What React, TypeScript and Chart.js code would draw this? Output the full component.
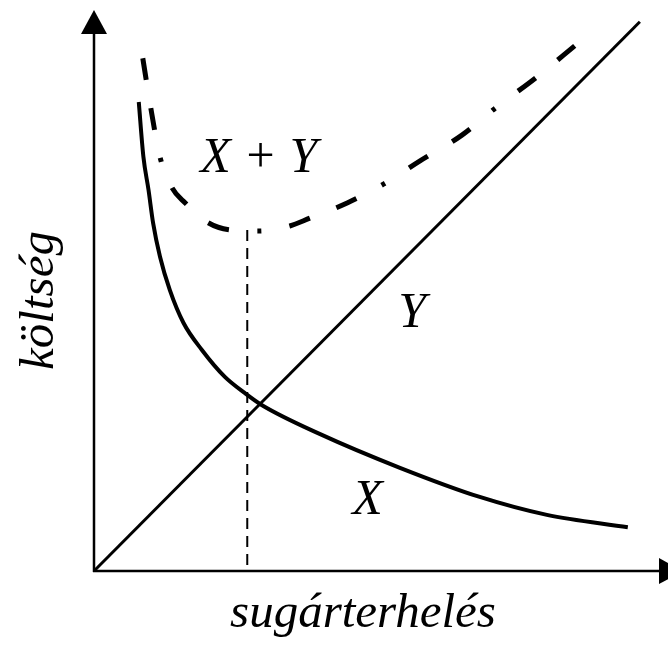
import React, { useEffect, useRef } from "react";
import { Chart, registerables } from "chart.js";

Chart.register(...registerables);

// X cost curve (decreasing)
const xCostX = [0.78, 0.86, 0.95, 1.03, 1.15, 1.32, 1.56, 1.88, 2.28, 2.63, 2.92, 3.94, 5.33, 6.72, 7.89, 9.3];
const xCostY = [8.36, 7.39, 6.79, 6.2, 5.6, 5.01, 4.42, 3.94, 3.46, 3.17, 2.96, 2.44, 1.84, 1.32, 1.0, 0.78];

// Y cost line (increasing)
const yCostX = [0, 9.51];
const yCostY = [0, 9.79];

// X + Y total cost curve
const sumX = [0.85, 0.98, 1.15, 1.36, 1.59, 1.97, 2.37, 2.86, 3.41, 3.76, 4.41, 5.05, 5.68, 6.41, 6.99, 7.72, 8.41];
const sumY = [9.14, 8.31, 7.38, 6.83, 6.56, 6.22, 6.08, 6.06, 6.15, 6.29, 6.56, 6.9, 7.31, 7.77, 8.25, 8.81, 9.39];

// vertical guide at the optimum
const optimumX = [2.67, 2.67];
const optimumY = [6.08, 0];

// curve labels
const curveLabels = ["X + Y", "Y", "X"];
const curveLabelX = [1.85, 5.3, 4.5];
const curveLabelY = [7.11, 4.35, 1.02];

const xAxisTitle = "sugárterhelés";
const yAxisTitle = "költség";

const LABEL_FONT = 'italic 50px "Liberation Serif", "Times New Roman", serif';
const TITLE_FONT = 'italic 49px "Liberation Serif", "Times New Roman", serif';

const pts = (xs: number[], ys: number[]) => xs.map((x, i) => ({ x, y: ys[i] }));

const decorPlugin = {
  id: "decor",
  afterDatasetsDraw(chart: any) {
    const ctx = chart.ctx as CanvasRenderingContext2D;
    const xs = chart.scales.x;
    const ys = chart.scales.y;
    const area = chart.chartArea;
    const ox = xs.getPixelForValue(0);
    const oy = ys.getPixelForValue(0);
    ctx.save();
    ctx.strokeStyle = "#000";
    ctx.fillStyle = "#000";
    ctx.lineWidth = 2.5;
    // y axis
    const yTip = area.top;
    const yBase = yTip + 24;
    ctx.beginPath();
    ctx.moveTo(ox, oy + 1);
    ctx.lineTo(ox, yBase);
    ctx.stroke();
    ctx.beginPath();
    ctx.moveTo(ox, yTip);
    ctx.lineTo(ox - 13, yBase);
    ctx.lineTo(ox + 13, yBase);
    ctx.closePath();
    ctx.fill();
    // x axis
    const xBase = area.right - 9;
    const xTip = xBase + 24;
    ctx.beginPath();
    ctx.moveTo(ox - 1, oy);
    ctx.lineTo(xBase, oy);
    ctx.stroke();
    ctx.beginPath();
    ctx.moveTo(xTip, oy);
    ctx.lineTo(xBase, oy - 13);
    ctx.lineTo(xBase, oy + 13);
    ctx.closePath();
    ctx.fill();

    // curve labels
    ctx.font = LABEL_FONT;
    ctx.textAlign = "left";
    ctx.textBaseline = "alphabetic";
    curveLabels.forEach((t, i) => {
      ctx.fillText(t, xs.getPixelForValue(curveLabelX[i]), ys.getPixelForValue(curveLabelY[i]));
    });

    // axis titles
    ctx.font = TITLE_FONT;
    ctx.textAlign = "center";
    ctx.fillText(xAxisTitle, ox + 269, oy + 56);
    ctx.save();
    ctx.translate(ox - 41, (area.top + oy) / 2 + 10);
    ctx.rotate(-Math.PI / 2);
    ctx.fillText(yAxisTitle, 0, 0);
    ctx.restore();
    ctx.restore();
  },
};

export default function App() {
  const ref = useRef<HTMLCanvasElement | null>(null);
  useEffect(() => {
    if (!ref.current) return;
    const chart = new Chart(ref.current, {
      type: "scatter",
      data: {
        datasets: [
          {
            label: "X",
            data: pts(xCostX, xCostY),
            showLine: true,
            borderColor: "#000",
            borderWidth: 4,
            pointRadius: 0,
            cubicInterpolationMode: "monotone",
            clip: false,
          },
          {
            label: "Y",
            data: pts(yCostX, yCostY),
            showLine: true,
            borderColor: "#000",
            borderWidth: 3,
            pointRadius: 0,
            tension: 0,
            clip: false,
          },
          {
            label: "X + Y",
            data: pts(sumX, sumY),
            showLine: true,
            borderColor: "#000",
            borderWidth: 5,
            borderDash: [22, 28.5, 22, 28.5, 4, 28.5],
            borderCapStyle: "butt",
            pointRadius: 0,
            cubicInterpolationMode: "monotone",
            clip: false,
          },
          {
            label: "optimum",
            data: pts(optimumX, optimumY),
            showLine: true,
            borderColor: "#000",
            borderWidth: 2,
            borderDash: [11, 7],
            pointRadius: 0,
            tension: 0,
            clip: false,
          },
        ],
      } as any,
      options: {
        animation: false,
        responsive: false,
        events: [],
        layout: { padding: { left: 94, top: 10, right: 0, bottom: 74 } },
        plugins: {
          legend: { display: false },
          tooltip: { enabled: false },
          title: { display: false },
        },
        scales: {
          x: { type: "linear", min: 0, max: 10, display: false },
          y: { type: "linear", min: 0, max: 10, display: false },
        },
      } as any,
      plugins: [decorPlugin],
    });
    return () => chart.destroy();
  }, []);
  return (
    <div style={{ position: "absolute", left: 0, top: 0, width: 668, height: 645, background: "#fff" }}>
      <canvas ref={ref} width={668} height={645} style={{ display: "block" }} />
    </div>
  );
}
